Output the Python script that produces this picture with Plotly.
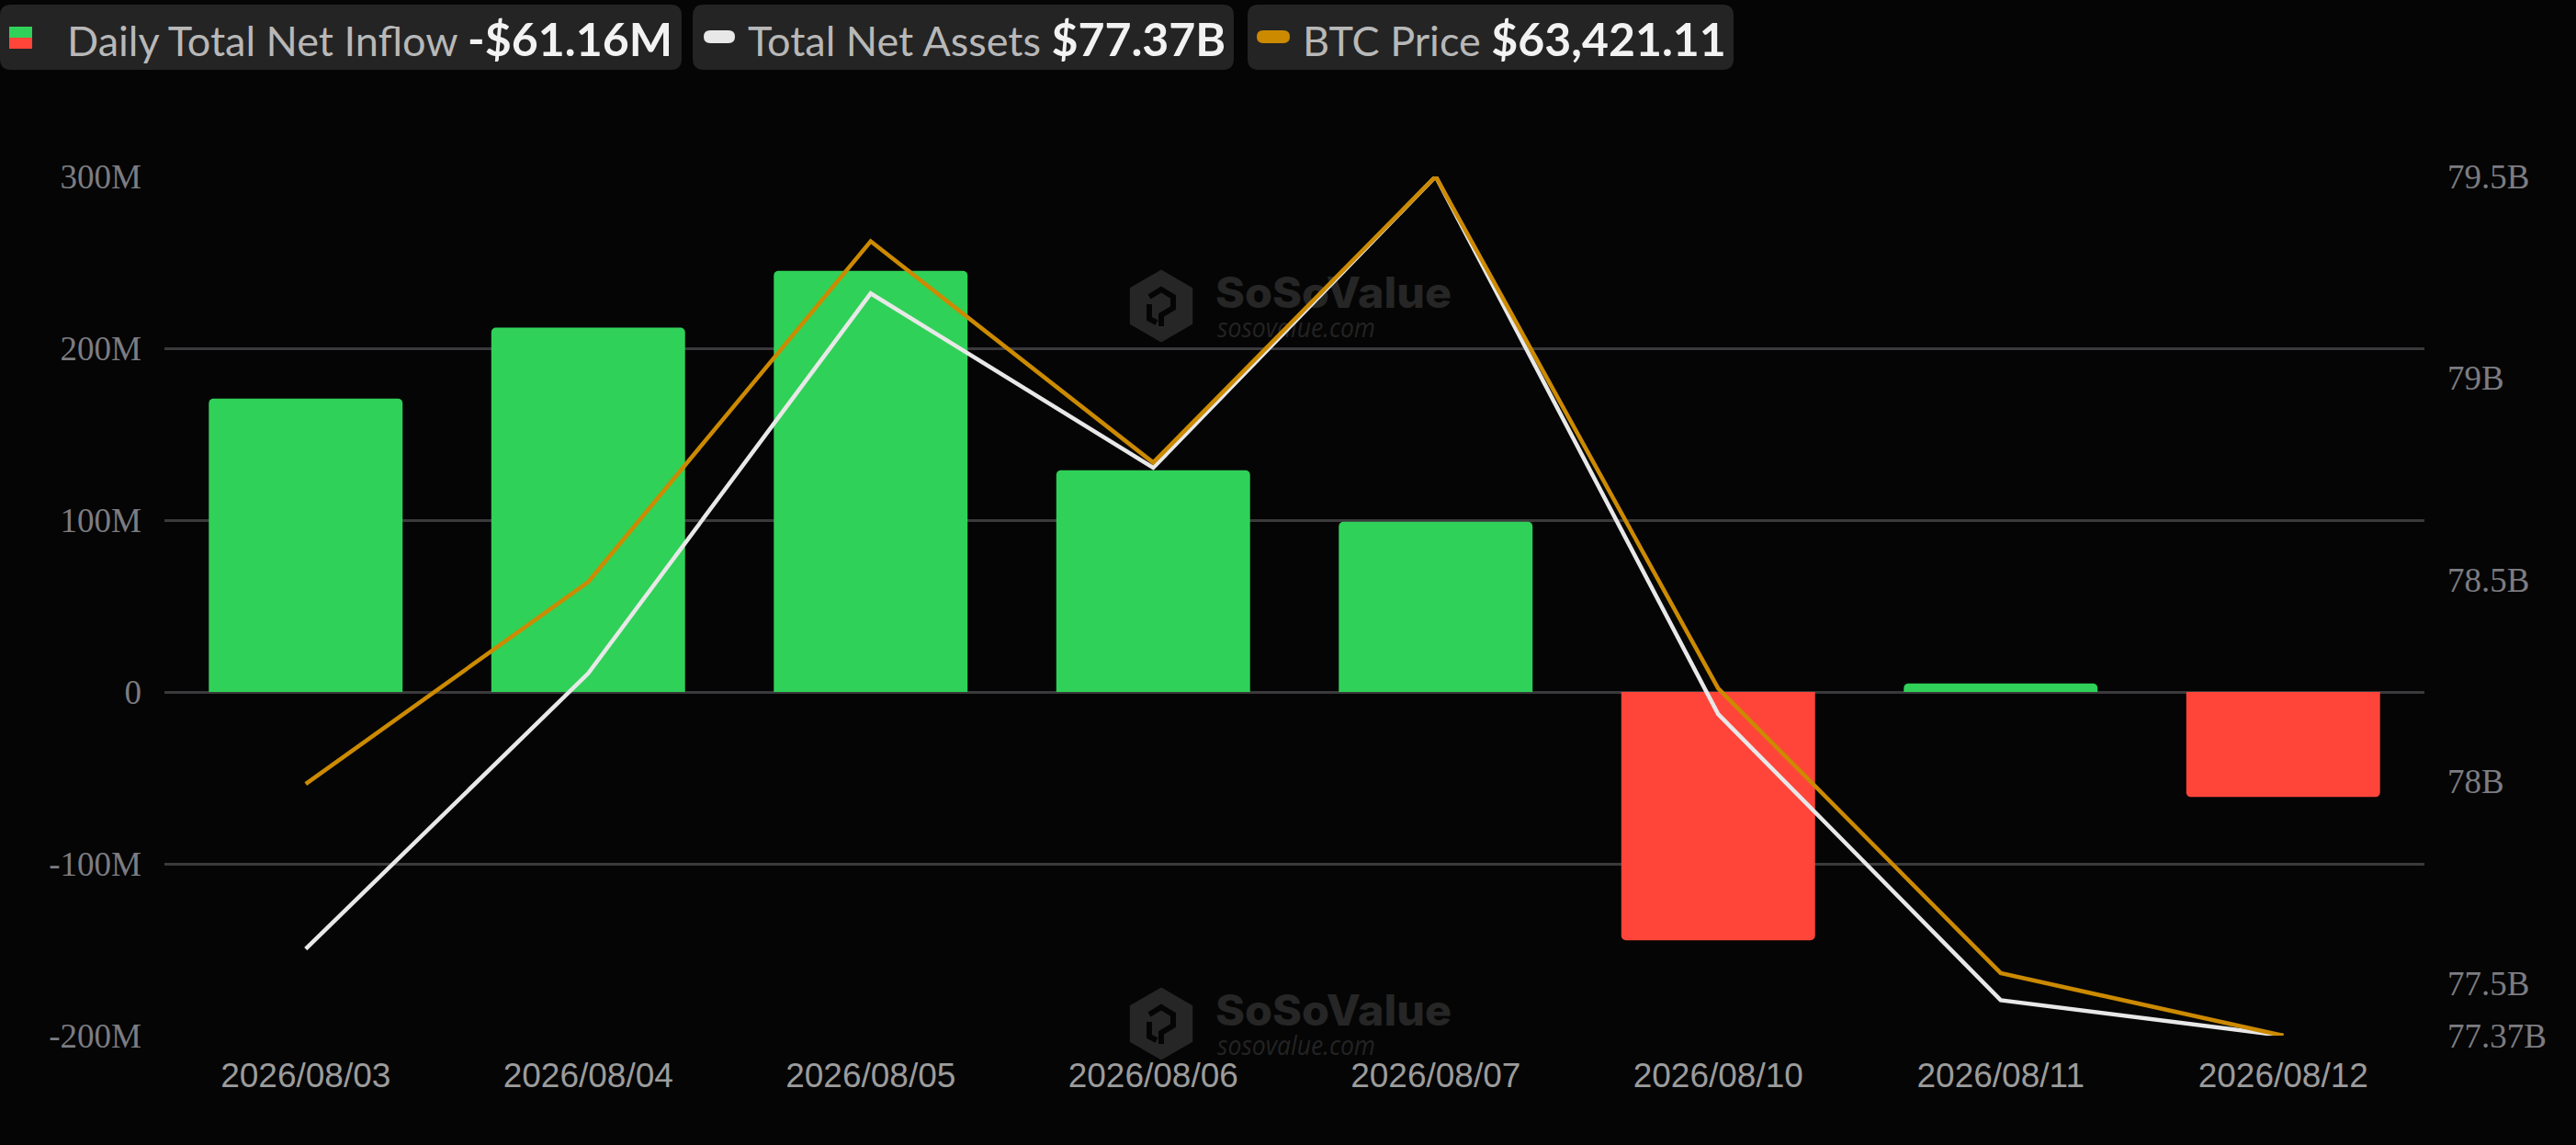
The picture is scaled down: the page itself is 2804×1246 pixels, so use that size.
import base64

import plotly.graph_objects as go

# values
dates = [
    "2026/08/03", "2026/08/04", "2026/08/05", "2026/08/06",
    "2026/08/07", "2026/08/10", "2026/08/11", "2026/08/12",
]
net_inflow_m = [170.7, 212.0, 245.0, 129.0, 99.0, -144.5, 4.9, -61.16]
total_net_assets_b = [77.585, 78.268, 79.21, 78.778, 79.50, 78.167, 77.458, 77.37]
btc_price = [65392.0, 66974.0, 69642.0, 67909.0, 70150.0, 66140.0, 63911.0, 63421.11]

inflow_ticks = [-200, -100, 0, 100, 200, 300]
inflow_tick_text = ["-200M", "-100M", "0", "100M", "200M", "300M"]
assets_ticks = [77.37, 77.5, 78, 78.5, 79, 79.5]
assets_tick_text = ["77.37B", "77.5B", "78B", "78.5B", "79B", "79.5B"]

legend_labels = ["Daily Total Net Inflow", "Total Net Assets", "BTC Price"]
legend_values = ["-$61.16M", "$77.37B", "$63,421.11"]

GREEN = "#30d158"
RED = "#ff453a"
WHITE = "#e8e8e8"
ORANGE = "#cc8a00"
BG = "#050505"

W, H = 2804, 1246
L, R, T, B = 179, 165, 192, 119
PW, PH = W - L - R, H - T - B


def px(x):
    return (x - L) / PW


def py(y):
    return (H - B - y) / PH


def rounded_rect(x0, y0, x1, y1, r):
    pts = [
        ("M", [(x0 + r, y0)]),
        ("L", [(x1 - r, y0)]),
        ("Q", [(x1, y0), (x1, y0 + r)]),
        ("L", [(x1, y1 - r)]),
        ("Q", [(x1, y1), (x1 - r, y1)]),
        ("L", [(x0 + r, y1)]),
        ("Q", [(x0, y1), (x0, y1 - r)]),
        ("L", [(x0, y0 + r)]),
        ("Q", [(x0, y0), (x0 + r, y0)]),
    ]
    parts = []
    for cmd, coords in pts:
        parts.append(cmd + " ".join(f"{px(a):.5f},{py(b):.5f}" for a, b in coords))
    return " ".join(parts) + " Z"


def watermark_uri():
    svg = (
        "<svg xmlns='http://www.w3.org/2000/svg' width='380' height='90' viewBox='0 0 380 90'>"
        "<polygon points='35,0.5 69.2,20.25 69.2,59.75 35,79.5 0.8,59.75 0.8,20.25' fill='#262626'/>"
        "<path d='M22 30 L35 22 L48 30 L48 42 L35 50 L35 62 M22 38 L22 54 L30 58' "
        "stroke='#050505' stroke-width='6' fill='none'/>"
        "<text x='94' y='42' font-family='Inter' font-weight='800' font-size='46' "
        "textLength='257' lengthAdjust='spacingAndGlyphs' fill='#262626'>SoSoValue</text>"
        "<text x='96' y='74' font-family='Open Sans' font-style='italic' font-size='30' "
        "textLength='172' lengthAdjust='spacingAndGlyphs' fill='#232323'>sosovalue.com</text>"
        "</svg>"
    )
    return "data:image/svg+xml;base64," + base64.b64encode(svg.encode()).decode()


bar_colors = [GREEN if v >= 0 else RED for v in net_inflow_m]

fig = go.Figure()

fig.add_trace(
    go.Bar(
        x=dates,
        y=net_inflow_m,
        marker={"color": bar_colors, "line": {"width": 0}, "cornerradius": 5},
        name=legend_labels[0],
        yaxis="y",
    )
)
fig.add_trace(
    go.Scatter(
        x=dates,
        y=total_net_assets_b,
        mode="lines",
        line={"color": WHITE, "width": 4.5},
        name=legend_labels[1],
        yaxis="y2",
    )
)
fig.add_trace(
    go.Scatter(
        x=dates,
        y=btc_price,
        mode="lines",
        line={"color": ORANGE, "width": 4.5},
        name=legend_labels[2],
        yaxis="y3",
    )
)

tick_font = {"family": "Liberation Serif", "size": 37, "color": "#7c7c81"}

fig.update_layout(
    width=W,
    height=H,
    margin={"l": L, "r": R, "t": T, "b": B, "pad": 0},
    paper_bgcolor=BG,
    plot_bgcolor="rgba(0,0,0,0)",
    showlegend=False,
    bargap=0.314,
    xaxis={
        "type": "category",
        "showgrid": False,
        "zeroline": False,
        "showline": False,
        "ticks": "",
        "ticklabelstandoff": 18,
        "tickfont": {"family": "Liberation Sans", "size": 37, "color": "#9c9c9c"},
    },
    yaxis={
        "range": [inflow_ticks[0], inflow_ticks[-1]],
        "tickvals": inflow_ticks,
        "ticktext": inflow_tick_text,
        "showgrid": True,
        "gridcolor": "#3a3a3c",
        "gridwidth": 2.5,
        "zeroline": False,
        "showline": False,
        "ticks": "",
        "ticklabelstandoff": 24,
        "tickfont": tick_font,
    },
    yaxis2={
        "overlaying": "y",
        "side": "right",
        "range": [assets_ticks[0], assets_ticks[-1]],
        "tickvals": assets_ticks,
        "ticktext": assets_tick_text,
        "showgrid": False,
        "zeroline": False,
        "showline": False,
        "ticks": "",
        "ticklabelstandoff": 24,
        "tickfont": tick_font,
    },
    yaxis3={
        "overlaying": "y",
        "range": [min(btc_price), max(btc_price)],
        "visible": False,
    },
)

# legend chips across the top
chip_boxes = [(0, 742), (754, 1343), (1358, 1887)]
text_starts = [71, 812, 1416]
shapes = []
for x0, x1 in chip_boxes:
    shapes.append(
        {
            "type": "path",
            "xref": "paper",
            "yref": "paper",
            "path": rounded_rect(x0, 5, x1, 76, 12),
            "fillcolor": "#242424",
            "line": {"width": 0},
            "layer": "below",
        }
    )
shapes.append(
    {"type": "rect", "xref": "paper", "yref": "paper",
     "x0": px(10), "x1": px(35), "y0": py(29), "y1": py(41),
     "fillcolor": GREEN, "line": {"width": 0}}
)
shapes.append(
    {"type": "rect", "xref": "paper", "yref": "paper",
     "x0": px(10), "x1": px(35), "y0": py(41), "y1": py(53),
     "fillcolor": RED, "line": {"width": 0}}
)
for (x0, x1), color in zip([(766, 800), (1368, 1404)], [WHITE, ORANGE]):
    shapes.append(
        {"type": "path", "xref": "paper", "yref": "paper",
         "path": rounded_rect(x0, 33, x1, 47, 7),
         "fillcolor": color, "line": {"width": 0}}
    )
fig.update_layout(shapes=shapes)

for label, value, x0 in zip(legend_labels, legend_values, text_starts):
    fig.add_annotation(
        xref="paper",
        yref="paper",
        x=px(x0),
        y=py(42),
        xanchor="left",
        yanchor="middle",
        showarrow=False,
        text=f"<span style='color:#b8b8b8'>{label}</span> "
             f"<span style='font-size:50px'><b>{value}</b></span>",
        font={"family": "Lato", "size": 45, "color": "#f2f2f2"},
    )

# watermarks
mark = watermark_uri()
for top in (293, 1074):
    fig.add_layout_image(
        source=mark,
        xref="paper",
        yref="paper",
        x=px(1229),
        y=py(top),
        sizex=380 / PW,
        sizey=90 / PH,
        xanchor="left",
        yanchor="top",
        sizing="stretch",
        layer="below",
    )

fig.write_html(
    "out.html",
    config={"displayModeBar": False},
    post_script="document.body.style.margin='0';",
)
